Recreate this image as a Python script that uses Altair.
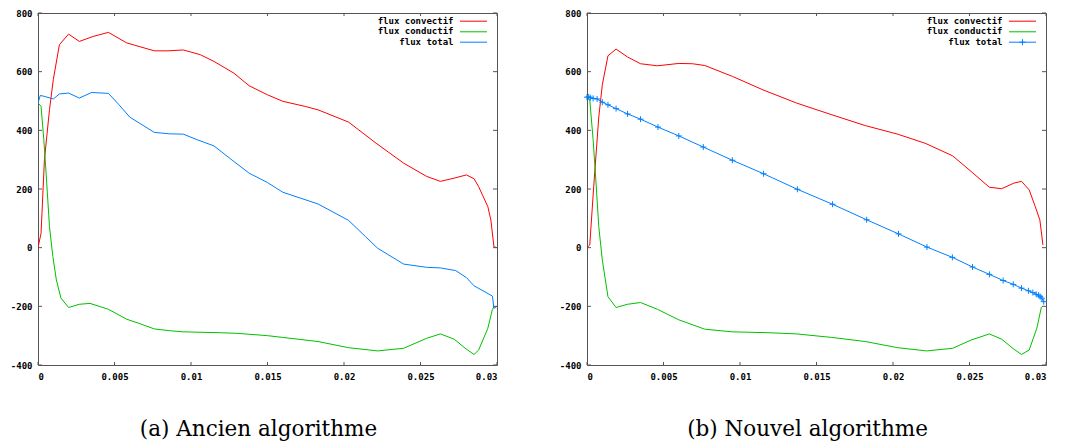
import altair as alt
import pandas as pd

# ---------- data ----------
# (a) Ancien algorithme
A_CONV_X = [0, 0.0002, 0.00042, 0.00075, 0.001, 0.0014, 0.002, 0.0027, 0.0036, 0.0046, 0.0058, 0.0064,
            0.0076, 0.0085, 0.0095, 0.0106, 0.0115, 0.0128, 0.0138, 0.015, 0.016, 0.0175, 0.0183, 0.0203,
            0.0221, 0.0239, 0.0254, 0.0263, 0.0272, 0.028, 0.0285, 0.0288, 0.0294, 0.0296, 0.0298, 0.03]
A_CONV_Y = [0, 49, 300, 470, 573, 692, 728, 703, 720, 734, 698, 689,
            671, 671, 674, 658, 635, 595, 552, 521, 499, 481, 470, 428,
            356, 288, 243, 226, 237, 248, 235, 208, 140, 94, 3, 0]

A_COND_X = [0, 0.0002, 0.00038, 0.00053, 0.00075, 0.00097, 0.0012, 0.0015, 0.002, 0.0027, 0.0034, 0.0046,
            0.0058, 0.0066, 0.0076, 0.0086, 0.0095, 0.0119, 0.013, 0.015, 0.016, 0.0183, 0.0203, 0.0222,
            0.0239, 0.0254, 0.0263, 0.0272, 0.028, 0.0285, 0.0288, 0.0294, 0.0297, 0.0298]
A_COND_Y = [493, 482, 368, 254, 72, -30, -110, -172, -204, -193, -190, -210,
            -244, -258, -277, -283, -287, -290, -292, -300, -306, -320, -341, -352,
            -343, -309, -294, -312, -346, -364, -349, -275, -210, -202]

A_TOT_X = [0, 0.00015, 0.0004, 0.001, 0.0014, 0.002, 0.0027, 0.0035, 0.0046, 0.0053, 0.006, 0.0076,
           0.0086, 0.0095, 0.0104, 0.0115, 0.0126, 0.0138, 0.015, 0.016, 0.0183, 0.0203, 0.0214, 0.0222,
           0.0239, 0.0254, 0.0263, 0.0273, 0.028, 0.0285, 0.0297, 0.0298, 0.03]
A_TOT_Y = [493, 519, 516, 507, 524, 527, 510, 529, 526, 487, 445, 393,
           388, 387, 368, 347, 302, 254, 222, 189, 149, 93, 38, -2,
           -56, -67, -69, -78, -102, -130, -165, -207, -200]

# (b) Nouvel algorithme
B_CONV_X = [0, 0.00018, 0.00044, 0.00077, 0.001, 0.00137, 0.0019, 0.00265, 0.0035, 0.0046, 0.006, 0.0069,
            0.0077, 0.0095, 0.0115, 0.0137, 0.016, 0.0182, 0.0203, 0.0221, 0.0239, 0.0251, 0.0263, 0.0271,
            0.0279, 0.0284, 0.0289, 0.0293, 0.0296, 0.0298]
B_CONV_Y = [0, 9, 209, 445, 555, 654, 677, 650, 627, 620, 628, 627,
            621, 584, 538, 493, 453, 416, 387, 356, 313, 260, 206, 201,
            220, 226, 197, 140, 94, 9]

B_COND_X = [0, 0.00018, 0.0004, 0.00055, 0.00077, 0.001, 0.00137, 0.0019, 0.00265, 0.0035, 0.0046, 0.006,
            0.0077, 0.0095, 0.0119, 0.0137, 0.016, 0.0182, 0.0203, 0.0222, 0.0239, 0.0251, 0.0263, 0.0271,
            0.0279, 0.0284, 0.0289, 0.0294, 0.0297]
B_COND_Y = [515, 504, 368, 254, 72, -42, -167, -204, -193, -187, -210, -246,
            -278, -287, -290, -294, -306, -320, -341, -352, -343, -315, -294, -312,
            -346, -364, -349, -275, -202]

B_TOT_X = [0, 0.00011, 0.00022, 0.0004, 0.00066, 0.001, 0.00137, 0.0019, 0.00265, 0.0035, 0.00464, 0.006,
           0.0076, 0.0095, 0.01154, 0.01375, 0.01605, 0.01828, 0.02036, 0.02222, 0.02388, 0.0252, 0.0263,
           0.0272, 0.02786, 0.0284, 0.02885, 0.02914, 0.02936, 0.02952, 0.02962, 0.02973, 0.02985]
B_TOT_Y = [513, 514, 511, 509, 507, 496, 487, 474, 456, 438, 411, 381,
           343, 298, 252, 199, 148, 95, 47, 2, -33, -66, -91,
           -112, -125, -138, -147, -153, -159, -162, -167, -172, -184]

X_TICKS = [0, 0.005, 0.01, 0.015, 0.02, 0.025, 0.03]
Y_TICKS = [-400, -200, 0, 200, 400, 600, 800]
LEGEND = ["flux convectif", "flux conductif", "flux total"]
CAPTIONS = ["(a) Ancien algorithme", "(b) Nouvel algorithme"]

# ---------- styling ----------
W, H = 459, 352
RED, GREEN, BLUE = "#ff0000", "#00c000", "#0080ff"
FRAME = "#555555"
MONO = "DejaVu Sans Mono"
PLUS = "M-1,0L1,0M0,-1L0,1"

xs = alt.Scale(domain=[0, 0.03], nice=False, zero=False)
ys = alt.Scale(domain=[-400, 800], nice=False, zero=False)

xaxis = alt.Axis(values=X_TICKS, labelExpr="'' + datum.value", ticks=False, tickSize=0, domain=False,
                 grid=False, title=None, labelFont=MONO, labelFontWeight="bold", labelFontSize=9,
                 labelColor="black", labelPadding=7)
yaxis = alt.Axis(values=Y_TICKS, labelExpr="'' + datum.value", ticks=False, tickSize=0, domain=False,
                 grid=False, title=None, labelFont=MONO, labelFontWeight="bold", labelFontSize=9,
                 labelColor="black", labelPadding=6)

X = lambda f: alt.X(f, scale=xs, axis=xaxis)
Y = lambda f: alt.Y(f, scale=ys, axis=yaxis)


def line_layer(xv, yv, color):
    df = pd.DataFrame({"x": xv, "y": yv})
    return alt.Chart(df).mark_line(color=color, strokeWidth=1, clip=True).encode(x=X("x:Q"), y=Y("y:Q"))


def tick_layers():
    xt = pd.DataFrame({"v": X_TICKS})
    yt = pd.DataFrame({"v": Y_TICKS})
    rx = dict(color=FRAME, strokeWidth=1)
    return [
        alt.Chart(xt).mark_rule(**rx).encode(x=X("v:Q"), y=alt.value(H), y2=alt.value(H - 3)),
        alt.Chart(xt).mark_rule(**rx).encode(x=X("v:Q"), y=alt.value(0), y2=alt.value(3)),
        alt.Chart(yt).mark_rule(**rx).encode(y=Y("v:Q"), x=alt.value(0), x2=alt.value(4)),
        alt.Chart(yt).mark_rule(**rx).encode(y=Y("v:Q"), x=alt.value(W), x2=alt.value(W - 4)),
    ]


def legend_layers(markers):
    rows = [7.7, 18.3, 28.7]
    colors = [RED, GREEN, BLUE]
    out = []
    for lab, yy, col in zip(LEGEND, rows, colors):
        d = pd.DataFrame({"t": [lab]})
        out.append(alt.Chart(d).mark_text(align="right", baseline="middle", font=MONO, fontWeight="bold",
                                          fontSize=9, color="black").encode(
            text="t:N", x=alt.value(415.5), y=alt.value(yy)))
        out.append(alt.Chart(d).mark_rule(color=col, strokeWidth=1).encode(
            x=alt.value(422), x2=alt.value(449), y=alt.value(yy + 0.5)))
    if markers:
        d = pd.DataFrame({"t": [LEGEND[2]]})
        out.append(alt.Chart(d).mark_point(shape=PLUS, size=36, color=BLUE, strokeWidth=1, filled=False,
                                           opacity=1).encode(x=alt.value(435.5), y=alt.value(rows[2] + 0.5)))
    return out


def panel(conv, cond, tot, caption, markers):
    layers = [
        line_layer(conv[0], conv[1], RED),
        line_layer(cond[0], cond[1], GREEN),
        line_layer(tot[0], tot[1], BLUE),
    ]
    if markers:
        df = pd.DataFrame({"x": tot[0], "y": tot[1]})
        layers.append(alt.Chart(df).mark_point(shape=PLUS, size=36, color=BLUE, strokeWidth=1, filled=False,
                                               opacity=1).encode(x=X("x:Q"), y=Y("y:Q")))
    layers += tick_layers()
    layers += legend_layers(markers)
    return alt.layer(*layers).properties(
        width=W, height=H,
        title=alt.TitleParams(caption, orient="bottom", anchor="middle", font="DejaVu Serif",
                              fontSize=21.5, fontWeight="normal", color="black", offset=38, dx=-9),
    )


left = panel((A_CONV_X, A_CONV_Y), (A_COND_X, A_COND_Y), (A_TOT_X, A_TOT_Y), CAPTIONS[0], False)
right = panel((B_CONV_X, B_CONV_Y), (B_COND_X, B_COND_Y), (B_TOT_X, B_TOT_Y), CAPTIONS[1], True)

chart = alt.hconcat(left, right, spacing=60).properties(
    padding={"top": 0, "left": 1, "right": 0, "bottom": 0},
    background="white",
).configure_view(stroke=FRAME, strokeWidth=1)

chart.save("out.html", embed_options={"renderer": "svg", "actions": False})
